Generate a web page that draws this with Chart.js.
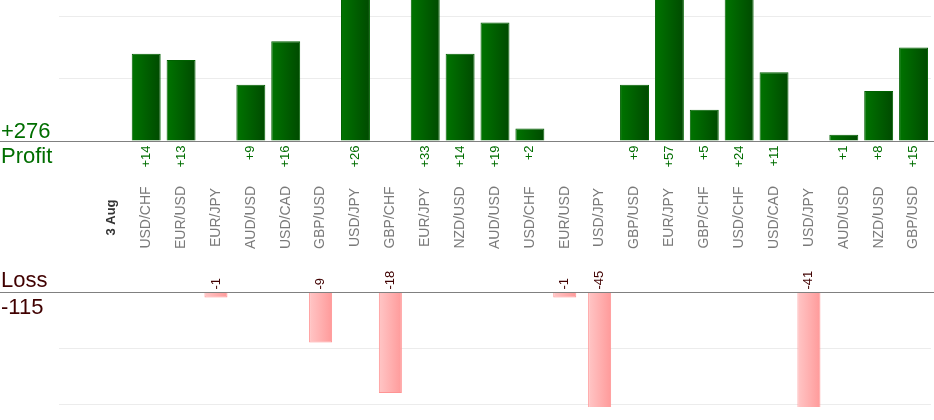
<!DOCTYPE html>
<html>
<head>
<meta charset="utf-8">
<script src="https://cdn.jsdelivr.net/npm/chart.js@4"></script>
<style>
  html, body { margin: 0; padding: 0; background: #fff; }
  #wrap { position: relative; width: 934px; height: 420px; }
  #wrap canvas { position: absolute; left: 0; top: 0; }
</style>
</head>
<body>
<div id="wrap">
  <canvas id="profitChart" width="934" height="420"></canvas>
  <canvas id="lossChart" width="934" height="420"></canvas>
</div>
<script>
// categories (first slot empty, second is the day marker)
const pairs = ['', '3 Aug', 'USD/CHF', 'EUR/USD', 'EUR/JPY', 'AUD/USD', 'USD/CAD', 'GBP/USD',
  'USD/JPY', 'GBP/CHF', 'EUR/JPY', 'NZD/USD', 'AUD/USD', 'USD/CHF', 'EUR/USD', 'USD/JPY',
  'GBP/USD', 'EUR/JPY', 'GBP/CHF', 'USD/CHF', 'USD/CAD', 'USD/JPY', 'AUD/USD', 'NZD/USD', 'GBP/USD'];

const profit = [null, null, 14, 13, null, 9, 16, null, 26, null, 33, 14, 19, 2, null,
  null, 9, 57, 5, 24, 11, null, 1, 8, 15];

const loss = [null, null, null, null, -1, null, null, -9, null, -18, null, null, null, null, -1,
  -45, null, null, null, null, null, -41, null, null, null];

const profitTicks = [0, 10, 20];
const lossTicks = [0, -10, -20];

const FONT = "'Liberation Sans', Arial, sans-serif";
const GREEN = '#006e00';
const MAROON = '#400000';

// totals shown on the left
const totalProfit = profit.reduce((a, v) => a + (v || 0), 0);
const totalLoss = loss.reduce((a, v) => a + (v || 0), 0);

// horizontal gradient for each bar
function barGradient(pct, from, to) {
  return function(ctx) {
    const chart = ctx.chart;
    const x = chart.scales.x;
    if (!x || ctx.type !== 'data' || !chart.chartArea) return to;
    const cx = x.getPixelForValue(ctx.dataIndex);
    const half = (x.width / pairs.length) * pct / 2;
    const g = chart.ctx.createLinearGradient(cx - half, 0, cx + half, 0);
    g.addColorStop(0, from);
    g.addColorStop(1, to);
    return g;
  };
}

function rotText(c, text, x, y, align) {
  c.save();
  c.translate(x, y);
  c.rotate(-Math.PI / 2);
  c.textAlign = align;
  c.textBaseline = 'middle';
  c.fillText(text, 0, 0);
  c.restore();
}

// zero line, value labels, category labels and the left totals
const profitDecor = {
  id: 'profitDecor',
  afterDatasetsDraw(chart) {
    const c = chart.ctx, x = chart.scales.x, y = chart.scales.y;
    const y0 = Math.round(y.getPixelForValue(0)) + 0.5;
    c.save();
    c.strokeStyle = '#808080';
    c.lineWidth = 1;
    c.beginPath(); c.moveTo(0, y0); c.lineTo(chart.width, y0); c.stroke();

    c.fillStyle = GREEN;
    c.font = '13px ' + FONT;
    profit.forEach((v, i) => {
      if (v == null) return;
      rotText(c, '+' + v, x.getPixelForValue(i), y0 + 4, 'right');
    });

    // categories
    pairs.forEach((p, i) => {
      if (!p) return;
      if (i === 1) { c.fillStyle = '#333'; c.font = 'bold 13px ' + FONT; }
      else { c.fillStyle = '#7a7a7a'; c.font = '14px ' + FONT; }
      rotText(c, p, x.getPixelForValue(i), 217.5, 'center');
    });

    c.fillStyle = GREEN;
    c.font = '22px ' + FONT;
    c.textAlign = 'left';
    c.textBaseline = 'alphabetic';
    c.fillText('+' + totalProfit, 1, 138);
    c.fillText('Profit', 1, 162.5);
    c.restore();
  }
};

const lossDecor = {
  id: 'lossDecor',
  afterDatasetsDraw(chart) {
    const c = chart.ctx, x = chart.scales.x, y = chart.scales.y;
    const y0 = Math.round(y.getPixelForValue(0)) + 0.5;
    c.save();
    c.strokeStyle = '#808080';
    c.lineWidth = 1;
    c.beginPath(); c.moveTo(0, y0); c.lineTo(chart.width, y0); c.stroke();

    c.fillStyle = MAROON;
    c.font = '13px ' + FONT;
    loss.forEach((v, i) => {
      if (v == null) return;
      rotText(c, String(v), x.getPixelForValue(i), y0 - 3, 'left');
    });

    c.font = '22px ' + FONT;
    c.textAlign = 'left';
    c.textBaseline = 'alphabetic';
    c.fillText('Loss', 1, 286.5);
    c.fillText(String(totalLoss), 1, 314);
    c.restore();
  }
};

// y axis: only the listed gridlines, no labels
function valueAxis(min, max, list) {
  return {
    min: min, max: max,
    afterBuildTicks: s => { s.ticks = list.map(v => ({ value: v })); },
    ticks: { display: false },
    border: { display: false },
    grid: { drawTicks: false, color: '#ececec' }
  };
}

const profitChart = new Chart(document.getElementById('profitChart'), {
  type: 'bar',
  data: {
    labels: pairs,
    datasets: [{
      data: profit,
      backgroundColor: barGradient(0.83, '#007400', '#004a00'),
      borderColor: '#006000',
      borderWidth: 1,
      barPercentage: 0.83,
      categoryPercentage: 1
    }]
  },
  options: {
    responsive: false,
    animation: false,
    layout: { padding: { left: 59, right: 3, top: 0, bottom: 279 } },
    plugins: { legend: { display: false }, tooltip: { enabled: false } },
    scales: {
      x: { display: false },
      y: valueAxis(0, 22.6, profitTicks)
    }
  },
  plugins: [profitDecor]
});

const lossChart = new Chart(document.getElementById('lossChart'), {
  type: 'bar',
  data: {
    labels: pairs,
    datasets: [{
      data: loss,
      backgroundColor: barGradient(0.66, '#ffc6c6', '#ff9a9a'),
      borderColor: '#ff9494',
      borderWidth: 1,
      barPercentage: 0.66,
      categoryPercentage: 1
    }]
  },
  options: {
    responsive: false,
    animation: false,
    layout: { padding: { left: 59, right: 3, top: 292, bottom: 13 } },
    plugins: { legend: { display: false }, tooltip: { enabled: false } },
    scales: {
      x: { display: false },
      y: valueAxis(-20.5, 0, lossTicks)
    }
  },
  plugins: [lossDecor]
});
</script>
</body>
</html>
